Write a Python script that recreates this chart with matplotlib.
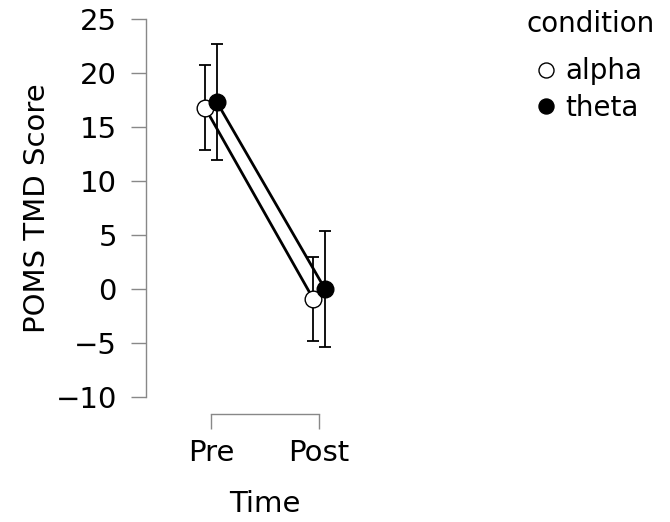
import matplotlib
matplotlib.use("Agg")
import matplotlib.pyplot as plt
import numpy as np

plt.rcParams['font.family'] = ['DejaVu Sans']

times = ["Pre", "Post"]
conditions = ["alpha", "theta"]
means = {"alpha": [16.8, -0.9], "theta": [17.3, 0.0]}
ci = {"alpha": [3.9, 3.9], "theta": [5.4, 5.4]}
yticks = [-10, -5, 0, 5, 10, 15, 20, 25]

fig = plt.figure(figsize=(6.7, 5.22), dpi=100)
ax = fig.add_axes([146/670, 1 - 397/522, 238/670, 378/522])

x = np.arange(len(times))
dodge = 0.055
face = {"alpha": "white", "theta": "black"}
for i, c in enumerate(conditions):
    xs = x + (i - 0.5) * 2 * dodge
    ax.errorbar(xs, means[c], yerr=ci[c], fmt='none', ecolor='black',
                elinewidth=1.3, capsize=4, capthick=1.3, zorder=2, clip_on=False)
    ax.plot(xs, means[c], color='black', lw=2.0, zorder=3, clip_on=False)
    ax.plot(xs, means[c], 'o', ms=12, mfc=face[c], mec='black', mew=1,
            zorder=4, clip_on=False, label=c, linestyle='none')

ax.set_xlim(-0.6, 1.6)
ax.set_ylim(-10, 25)
ax.set_xticks(x)
ax.set_xticklabels(times)
ax.set_yticks(yticks)
ax.set_yticklabels([str(t).replace('-', '\u2212') for t in yticks])

for s in ['top', 'right']:
    ax.spines[s].set_visible(False)
ax.spines['left'].set_bounds(-10, 25)
ax.spines['bottom'].set_bounds(0, 1)
ax.spines['bottom'].set_position(('outward', 12))
for s in ['left', 'bottom']:
    ax.spines[s].set_color('#888888')
    ax.spines[s].set_linewidth(1)
ax.tick_params(axis='both', length=11, width=1, color='#888888',
               labelsize=21, labelcolor='black')
ax.tick_params(axis='y', pad=10)
ax.tick_params(axis='x', pad=7)

ax.set_ylabel("POMS TMD Score", fontsize=21, labelpad=3)
ax.set_xlabel("Time", fontsize=21, labelpad=17)

h, l = ax.get_legend_handles_labels()
leg = fig.legend(h, l, title="condition", loc='upper left',
                 bbox_to_anchor=(526/670, 1 - 10/522), frameon=False,
                 borderpad=0, borderaxespad=0,
                 fontsize=20, title_fontsize=20, markerscale=0.9,
                 handlelength=0.6, handletextpad=0.4, labelspacing=0.3)
leg._legend_box.sep = 14

fig.savefig("out.png", dpi=100)
